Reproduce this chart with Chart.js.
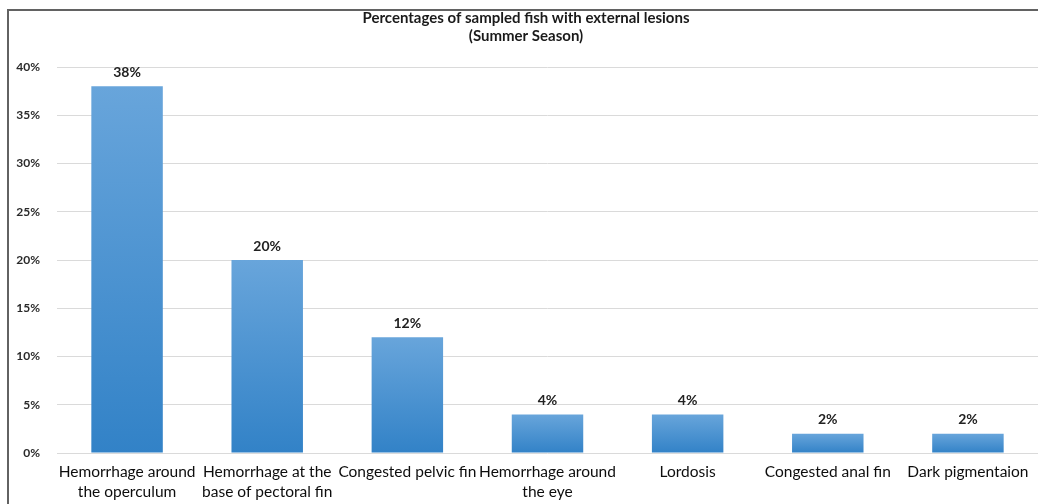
<!DOCTYPE html>
<html>
<head>
<meta charset="utf-8">
<script src="https://cdn.jsdelivr.net/npm/chart.js@4.4.1/dist/chart.umd.min.js"></script>
<style>
  html, body { margin: 0; padding: 0; background: #ffffff; }
  #wrap { position: relative; width: 1038px; height: 504px; }
</style>
</head>
<body>
<div id="wrap"><canvas id="c" width="1038" height="504"></canvas></div>
<script>
const titleLines = ["Percentages of sampled fish with external lesions", "(Summer Season)"];
const categories = [
  ["Hemorrhage around", "the operculum"],
  ["Hemorrhage at the", "base of pectoral fin"],
  ["Congested pelvic fin"],
  ["Hemorrhage around", "the eye"],
  ["Lordosis"],
  ["Congested anal fin"],
  ["Dark pigmentaion"]
];
const percentages = [38, 20, 12, 4, 4, 2, 2];
const yTicks = [0, 5, 10, 15, 20, 25, 30, 35, 40];

const frame = {
  id: 'frame',
  afterDraw(chart) {
    const ctx = chart.ctx;
    ctx.save();
    ctx.strokeStyle = '#626262';
    ctx.lineWidth = 2;
    ctx.beginPath();
    ctx.moveTo(8, 504);
    ctx.lineTo(8, 10);
    ctx.lineTo(1038, 10);
    ctx.stroke();
    ctx.restore();
  }
};

const valueLabels = {
  id: 'valueLabels',
  afterDatasetsDraw(chart) {
    const ctx = chart.ctx;
    const meta = chart.getDatasetMeta(0);
    ctx.save();
    ctx.font = 'bold 14px Lato, "Open Sans", sans-serif';
    ctx.fillStyle = '#222222';
    ctx.textAlign = 'center';
    ctx.textBaseline = 'middle';
    meta.data.forEach((bar, i) => {
      ctx.fillText(percentages[i] + '%', bar.x, bar.y - 14);
    });
    ctx.restore();
  }
};

function barGradient(context) {
  const chart = context.chart;
  const area = chart.chartArea;
  if (!area || context.parsed === undefined || context.parsed === null) return '#4a93d2';
  const ys = chart.scales.y;
  const top = ys.getPixelForValue(context.parsed.y);
  const bottom = ys.getPixelForValue(0);
  if (!isFinite(top) || !isFinite(bottom) || top === bottom) return '#4a93d2';
  const g = chart.ctx.createLinearGradient(0, top, 0, bottom);
  g.addColorStop(0, '#68a5db');
  g.addColorStop(1, '#3282c7');
  return g;
}

new Chart(document.getElementById('c'), {
  type: 'bar',
  data: {
    labels: categories,
    datasets: [{
      data: percentages,
      backgroundColor: barGradient,
      borderWidth: 0,
      barPercentage: 0.51,
      categoryPercentage: 1.0
    }]
  },
  options: {
    responsive: false,
    animation: false,
    devicePixelRatio: 1,
    layout: { padding: { left: 14, right: 0, top: 0, bottom: 0 } },
    plugins: {
      legend: { display: false },
      tooltip: { enabled: false },
      title: {
        display: true,
        text: titleLines,
        color: '#1a1a1a',
        font: { family: 'Lato, "Open Sans", sans-serif', size: 15, weight: 'bold', lineHeight: 1.2 },
        padding: { top: 9, bottom: 22 }
      }
    },
    scales: {
      x: {
        afterFit(scale) { scale.height = 51; },
        grid: { display: false, drawTicks: false },
        border: { display: false },
        ticks: {
          color: '#0d0d0d',
          font: { family: 'Lato, "Open Sans", sans-serif', size: 15.5, lineHeight: 1.28 },
          padding: 9,
          maxRotation: 0,
          autoSkip: false
        }
      },
      y: {
        min: 0,
        max: 40,
        afterFit(scale) { scale.width = 43; },
        afterBuildTicks(scale) { scale.ticks = yTicks.map(v => ({ value: v })); },
        grid: { color: '#dadada', lineWidth: 1, drawTicks: false },
        border: { display: false },
        ticks: {
          padding: 17,
          color: '#2a2a2a',
          font: { family: 'Lato, "Open Sans", sans-serif', size: 12, weight: 'bold' },
          callback: (v) => v + '%'
        }
      }
    }
  },
  plugins: [frame, valueLabels]
});
</script>
</body>
</html>
